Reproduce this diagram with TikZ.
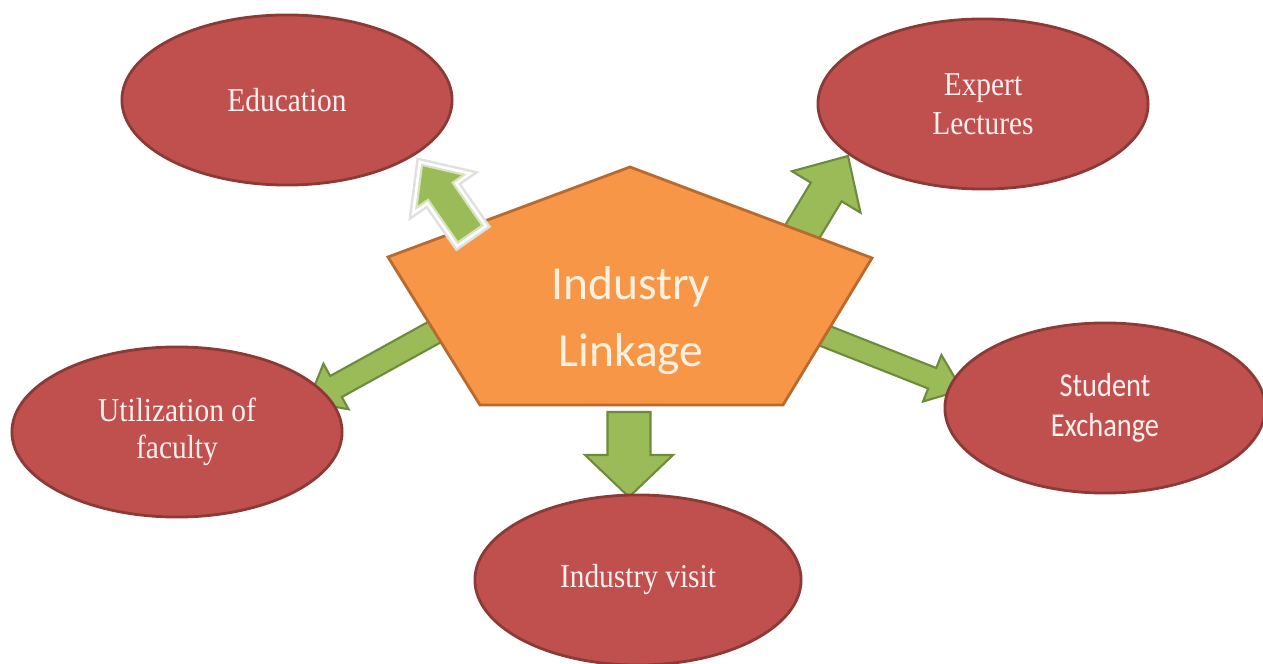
\documentclass[tikz,border=0pt]{standalone}
\usepackage{fontspec}
\usetikzlibrary{shapes.geometric,calc,backgrounds}

\newfontfamily\serifnarrow[FakeStretch=0.88]{Liberation Serif}
\newfontfamily\sansnarrow[FakeStretch=0.85]{Carlito}
\newfontfamily\sanswide{Carlito}

\definecolor{ellred}{HTML}{C0504D}
\definecolor{ellline}{HTML}{8C3A37}
\definecolor{pentorange}{HTML}{F79646}
\definecolor{pentline}{HTML}{B96A2E}
\definecolor{arrgreen}{HTML}{9BBB59}
\definecolor{arrline}{HTML}{6E8B3D}

% block arrow: [style]{base}{tip}{half shaft}{half head}{head length}
\newcommand{\blockarrow}[6][]{%
  \coordinate (#3hb) at ($(#3)!#6!(#2)$);
  \draw[blockarr,#1] ($(#2)!#4!90:(#3)$) -- ($(#3hb)!#4!90:(#3)$)
    -- ($(#3hb)!#5!90:(#3)$) -- (#3)
    -- ($(#3hb)!#5!-90:(#3)$) -- ($(#3hb)!#4!-90:(#3)$)
    -- ($(#2)!#4!-90:(#3)$) -- cycle;
}

\begin{document}
\begin{tikzpicture}[
  x=0.01cm, y=-0.01cm,
  topic/.style={
    ellipse, draw=ellline, line width=0.8pt, fill=ellred,
    minimum width=3.3cm, minimum height=1.7cm, inner sep=0pt,
    align=center, text=red!6!white,
    font=\serifnarrow\fontsize{9.5}{11}\selectfont
  },
  topicsans/.style={topic, font=\sansnarrow\fontsize{9.5}{11.5}\selectfont},
  pent/.style={draw=pentline, line width=0.8pt, fill=pentorange, line join=miter},
  blockarr/.style={draw=arrline, line width=0.6pt, fill=arrgreen, line join=miter},
  glowarr/.style={draw=white, line width=2.2pt,
    preaction={draw=black!12, line width=3.6pt}}
]
\useasboundingbox (0,0) rectangle (1263,664);

% ---------- the five topics ----------
\node[topic] (edu) at (287,100) {Education};
\node[topic] (exp) at (983,104) {Expert\\Lectures};
\node[topic, font=\serifnarrow\fontsize{9.5}{10.5}\selectfont] (fac) at (177,432) {Utilization of\\faculty};
\node[topicsans, minimum width=3.2cm] (stu) at (1105,408) {Student\\Exchange};
\node[topic, minimum width=3.26cm] (vis) at (638,580) {Industry visit};

% ---------- centre pentagon ----------
\draw[pent] (630,167) -- (872,258) -- (783,405) -- (480,405) -- (388,257) -- cycle;
\node[align=center, text=orange!12!white,
  font=\sanswide\fontsize{13.5}{19}\selectfont] (lk) at (631,321) {Industry\\Linkage};

% ---------- arrow ends ----------
\coordinate (eduB) at (470,234);
\coordinate (eduT) at (422,165);
\coordinate (expB) at (796,242);
\coordinate (expT) at (848,156);
\coordinate (facB) at (460,318);
\coordinate (facT) at (308,402);
\coordinate (stuB) at (810,330);
\coordinate (stuT) at (962,390);
\coordinate (visB) at (629,412);
\coordinate (visT) at (629,497);

% arrows behind the shapes
\begin{scope}[on background layer]
  \blockarrow{expB}{expT}{0.18cm}{0.40cm}{0.42cm}
  \blockarrow{facB}{facT}{0.12cm}{0.26cm}{0.32cm}
  \blockarrow{stuB}{stuT}{0.11cm}{0.25cm}{0.32cm}
  \blockarrow{visB}{visT}{0.215cm}{0.44cm}{0.42cm}
\end{scope}

% this one sits on top, with a white rim
\blockarrow[glowarr]{eduB}{eduT}{0.15cm}{0.29cm}{0.32cm}
\blockarrow[draw=arrgreen!40!white, line width=0.6pt]{eduB}{eduT}{0.15cm}{0.29cm}{0.32cm}

\end{tikzpicture}
\end{document}
